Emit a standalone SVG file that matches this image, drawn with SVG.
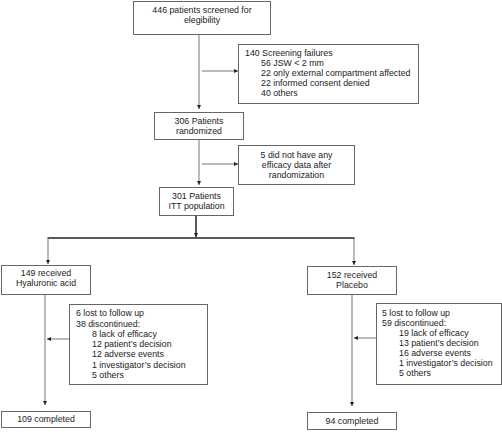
<svg xmlns="http://www.w3.org/2000/svg" width="502" height="432" viewBox="0 0 502 432">
<defs>
<marker id="ah" viewBox="0 0 4 4" markerWidth="4" markerHeight="4" refX="4" refY="2" orient="auto" markerUnits="userSpaceOnUse">
<path d="M0,0 L4,2 L0,4 z" fill="#222"/>
</marker>
<style>
.box{fill:#fff;stroke:#666;stroke-width:1}
text{font-family:"Liberation Sans",Arial,sans-serif;font-size:8.8px;fill:#222}
.c{text-anchor:middle}
.ln{stroke:#777;stroke-width:1;fill:none}
.th{stroke:#222;stroke-width:1.5;fill:none}
</style>
</defs>
<rect width="502" height="432" fill="#fff"/>
<g id="connectors">
<line class="ln" x1="199" y1="35" x2="199" y2="109" marker-end="url(#ah)"/>
<line class="ln" x1="202" y1="71" x2="238" y2="71" marker-end="url(#ah)"/>
<line class="ln" x1="199" y1="140" x2="199" y2="185" marker-end="url(#ah)"/>
<line class="ln" x1="202" y1="164" x2="238" y2="164" marker-end="url(#ah)"/>
<line class="th" x1="196" y1="216" x2="196" y2="237" marker-end="url(#ah)"/>
<line class="th" x1="47.5" y1="238" x2="354.5" y2="238"/>
<line class="ln" x1="48" y1="238.5" x2="48" y2="264" marker-end="url(#ah)"/>
<line class="ln" x1="354" y1="238.5" x2="354" y2="265" marker-end="url(#ah)"/>
<line class="ln" x1="45" y1="295" x2="45" y2="405" marker-end="url(#ah)"/>
<line class="ln" x1="69" y1="339" x2="47" y2="339" marker-end="url(#ah)"/>
<line class="ln" x1="352" y1="295" x2="352" y2="406" marker-end="url(#ah)"/>
<line class="ln" x1="376" y1="338" x2="354" y2="338" marker-end="url(#ah)"/>
</g>
<g id="screened">
<rect class="box" x="133.5" y="1.5" width="137" height="33"/>
<text class="c" x="202" y="12.5">446 patients screened for</text>
<text class="c" x="202" y="22.5">elegibility</text>
</g>
<g id="failures">
<rect class="box" x="238.5" y="44.5" width="180" height="59"/>
<text x="245" y="56">140 Screening failures</text>
<text x="261" y="66">56 JSW &lt; 2 mm</text>
<text x="261" y="76">22 only external compartment affected</text>
<text x="261" y="86">22 informed consent denied</text>
<text x="261" y="96">40 others</text>
</g>
<g id="randomized">
<rect class="box" x="154.5" y="112.5" width="89" height="27"/>
<text class="c" x="199" y="124">306 Patients</text>
<text class="c" x="199" y="134">randomized</text>
</g>
<g id="noefficacy">
<rect class="box" x="238.5" y="145.5" width="116" height="39"/>
<text class="c" x="296.5" y="158">5 did not have any</text>
<text class="c" x="296.5" y="168">efficacy data after</text>
<text class="c" x="296.5" y="177.5">randomization</text>
</g>
<g id="itt">
<rect class="box" x="159.5" y="187.5" width="74" height="28"/>
<text class="c" x="196.5" y="199">301 Patients</text>
<text class="c" x="196.5" y="208.5">ITT population</text>
</g>
<g id="ha">
<rect class="box" x="1.5" y="265.5" width="89" height="29"/>
<text class="c" x="46" y="276">149 received</text>
<text class="c" x="46" y="286">Hyaluronic acid</text>
</g>
<g id="placebo">
<rect class="box" x="307.5" y="266.5" width="89" height="28"/>
<text class="c" x="352" y="278">152 received</text>
<text class="c" x="352" y="288">Placebo</text>
</g>
<g id="ha-drop">
<rect class="box" x="69.5" y="304.5" width="138" height="80"/>
<text x="76" y="316">6 lost to follow up</text>
<text x="76" y="326.5">38 discontinued:</text>
<text x="92" y="336.5">8 lack of efficacy</text>
<text x="92" y="346.5">12 patient’s decision</text>
<text x="92" y="357">12 adverse events</text>
<text x="92" y="367.5">1 investigator’s decision</text>
<text x="92" y="378">5 others</text>
</g>
<g id="pl-drop">
<rect class="box" x="376.5" y="303.5" width="125" height="81"/>
<text x="382" y="316">5 lost to follow up</text>
<text x="382" y="326">59 discontinued:</text>
<text x="399" y="336">19 lack of efficacy</text>
<text x="399" y="346">13 patient’s decision</text>
<text x="399" y="356">16 adverse events</text>
<text x="399" y="366">1 investigator’s decision</text>
<text x="399" y="376">5 others</text>
</g>
<g id="ha-done">
<rect class="box" x="1.5" y="411.5" width="89" height="16"/>
<text class="c" x="46" y="422">109 completed</text>
</g>
<g id="pl-done">
<rect class="box" x="307.5" y="412.5" width="89" height="17"/>
<text class="c" x="352" y="424">94 completed</text>
</g>
</svg>
